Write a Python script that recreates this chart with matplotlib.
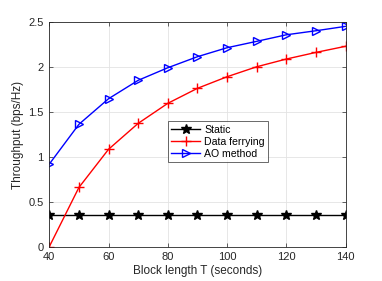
import numpy as np
import matplotlib
matplotlib.use('Agg')
import matplotlib.pyplot as plt

plt.rcParams['font.family'] = ['Liberation Sans', 'DejaVu Sans']

# block length T (seconds)
T = [40, 50, 60, 70, 80, 90, 100, 110, 120, 130, 140]
static = [0.355] * len(T)
ferry = [0.0, 0.66, 1.085, 1.374, 1.597, 1.764, 1.893, 2.004, 2.09, 2.164, 2.232]
ao = [0.92, 1.363, 1.648, 1.853, 1.993, 2.116, 2.216, 2.287, 2.36, 2.405, 2.454]

fig = plt.figure(figsize=(3.82, 2.81), dpi=100)
ax = fig.add_axes([0.129, 0.122, 0.776, 0.799])

ax.plot(T, static, color='black', marker='*', markersize=7, lw=1.0, label='Static')
ax.plot(T, ferry, color='red', marker='+', markersize=6.5, lw=1.0, label='Data ferrying')
ax.plot(T, ao, color='blue', marker='>', markersize=6, mfc='none', lw=1.0, label='AO method')

ax.set_xlim(40, 140)
ax.set_ylim(0, 2.5)
ax.set_xticks(np.arange(40, 141, 20))
ax.set_yticks([0, 0.5, 1, 1.5, 2, 2.5])
ax.set_yticklabels(['0', '0.5', '1', '1.5', '2', '2.5'])
ax.grid(True, color='#e3e3e3', lw=0.6)
ax.set_axisbelow(True)
ax.tick_params(direction='in', top=True, right=True, labelsize=8, colors='#262626', length=3, width=0.5, pad=4)
for s in ax.spines.values():
    s.set_color('#262626')
    s.set_linewidth(0.6)
ax.set_xlabel('Block length T (seconds)', fontsize=8.5, color='#262626', labelpad=2)
ax.set_ylabel('Throughput (bps/Hz)', fontsize=8.5, color='#262626', labelpad=3)

leg = ax.legend(loc='upper left', bbox_to_anchor=(0.401, 0.558), fontsize=7.6,
                frameon=True, fancybox=False, edgecolor='#262626', borderpad=0.3,
                labelspacing=0.2, handlelength=2.7, handletextpad=0.4, borderaxespad=0)
leg.get_frame().set_linewidth(0.6)

fig.savefig('out.png', dpi=100)
